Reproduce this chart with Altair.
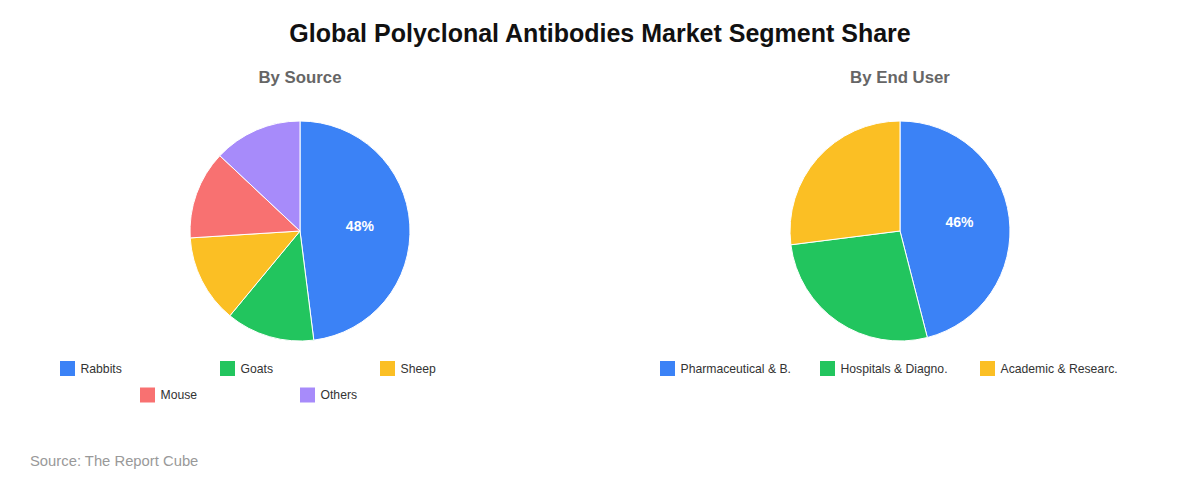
import altair as alt
import pandas as pd

# ---- data ----
source_names = ["Rabbits", "Goats", "Sheep", "Mouse", "Others"]
source_values = [48, 13, 13, 13, 13]
source_cols = [0, 1, 2, 0.5, 1.5]
source_rows = [0, 0, 0, 1, 1]

enduser_names = ["Pharmaceutical & B.", "Hospitals & Diagno.", "Academic & Researc."]
enduser_values = [46, 27, 27]
enduser_cols = [0, 1, 2]
enduser_rows = [0, 0, 0]

palette = ["#3b82f6", "#22c55e", "#fbbf24", "#f87171", "#a78bfa"]

FONT = "Liberation Sans"


def panel(names, values, cols, rows, subtitle):
    top = max(values)
    df = pd.DataFrame({
        "name": names,
        "value": values,
        "idx": list(range(len(names))),
        "label": [f"{v}%" if v == top else "" for v in values],
        "col": cols,
        "row": rows,
    })
    color = alt.Color("name:N", scale=alt.Scale(domain=names, range=palette[:len(names)]), legend=None)
    base = alt.Chart(df)
    arcs = base.mark_arc(stroke="white", strokeWidth=1).encode(
        theta=alt.Theta("value:Q", stack=True),
        color=color,
        order=alt.Order("idx:Q"),
    )
    labels = base.mark_text(radius=60, fontSize=14, fontWeight="bold", color="white", font=FONT).encode(
        theta=alt.Theta("value:Q", stack=True),
        order=alt.Order("idx:Q"),
        text="label:N",
    )
    pie = alt.layer(arcs, labels).properties(
        width=584, height=220,
        title=alt.TitleParams(subtitle, fontSize=16.8, fontWeight="bold", color="#666666",
                              font=FONT, anchor="middle", offset=32),
    )
    x = alt.X("col:Q", scale=alt.Scale(domain=[0, 2], range=[59.5, 379.5]), axis=None)
    y = alt.Y("row:Q", scale=alt.Scale(domain=[0, 1], range=[18.5, 45]), axis=None)
    sq = base.mark_square(size=225, opacity=1).encode(x=x, y=y, color=color)
    tx = base.mark_text(align="left", baseline="middle", dx=13, fontSize=12.2, color="#333333", font=FONT).encode(
        x=x, y=y, text="name:N")
    legend = alt.layer(sq, tx).properties(width=584, height=60)
    return alt.vconcat(pie, legend, spacing=7)


left = panel(source_names, source_values, source_cols, source_rows, "By Source")
right = panel(enduser_names, enduser_values, enduser_cols, enduser_rows, "By End User")

src = alt.Chart(pd.DataFrame({"t": ["Source: The Report Cube"]})).mark_text(
    align="left", baseline="middle", fontSize=14.8, color="#999999", font=FONT
).encode(x=alt.value(22), y=alt.value(10), text="t:N").properties(width=584, height=20)

chart = alt.vconcat(
    alt.hconcat(left, right, spacing=16),
    src,
    spacing=42,
).properties(
    title=alt.TitleParams("Global Polyclonal Antibodies Market Segment Share", fontSize=25,
                          fontWeight="bold", color="#111111", font=FONT, anchor="middle", offset=23),
    padding={"left": 0, "top": 14, "right": 0, "bottom": 0},
    background="white",
).configure_view(stroke=None)

chart.save("out.html", embed_options={"renderer": "svg", "actions": False})
